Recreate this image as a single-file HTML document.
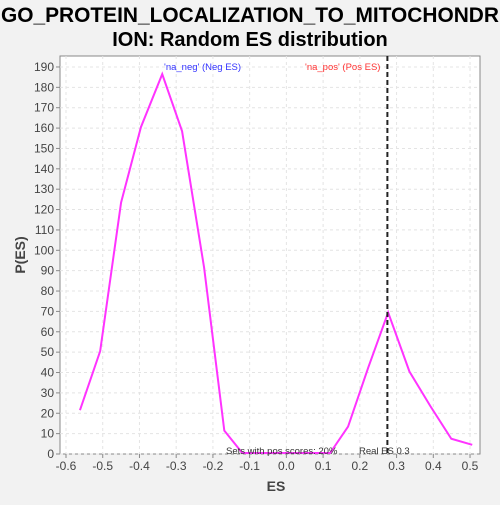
<!DOCTYPE html>
<html><head><meta charset="utf-8"><style>
body{margin:0;background:#f2f2f2;width:500px;height:500px;overflow:hidden;font-family:"Liberation Sans",sans-serif}
</style></head><body>
<svg id="chart" width="500" height="500" xmlns="http://www.w3.org/2000/svg">
<rect x="0" y="0" width="500" height="500" fill="#f2f2f2"/>
<text x="250" y="22" text-anchor="middle" font-size="21" font-weight="bold" fill="#000" textLength="498" lengthAdjust="spacingAndGlyphs">GO_PROTEIN_LOCALIZATION_TO_MITOCHONDR</text>
<text x="250" y="46" text-anchor="middle" font-size="20" font-weight="bold" fill="#000">ION: Random ES distribution</text>
<rect x="60" y="56" width="420" height="398" fill="#fff" stroke="#888"/>
<g id="grid"></g><g id="axes"></g><g id="marks"></g>
<text x="25" y="255" transform="rotate(-90 25 255)" text-anchor="middle" font-size="14" font-weight="bold" fill="#444">P(ES)</text>
<text x="276" y="491" text-anchor="middle" font-size="14" font-weight="bold" fill="#444">ES</text>
<text x="164" y="70" font-size="9.5" fill="#3333ff">'na_neg' (Neg ES)</text>
<text x="305" y="70" font-size="9.5" fill="#ff3333">'na_pos' (Pos ES)</text>
<text x="226" y="454" font-size="9.5" fill="#333">Sets with pos scores: 20%</text>
<text x="359" y="454" font-size="9.5" fill="#333">Real ES 0.3</text>
</svg>
<script>
const xVals=[-0.562,-0.507,-0.45,-0.396,-0.338,-0.284,-0.224,-0.169,-0.12,-0.06,0,0.06,0.119,0.168,0.223,0.277,0.335,0.392,0.449,0.506];
const yVals=[21,50,123,160,186,158,91,11,0,0,0,0,0,13,42,69,40,23,7,4];
const xTicks=[-0.6,-0.5,-0.4,-0.3,-0.2,-0.1,0.0,0.1,0.2,0.3,0.4,0.5];
const yTicks=[0,10,20,30,40,50,60,70,80,90,100,110,120,130,140,150,160,170,180,190];
const realES=[0.275];
const X=v=>66+(v+0.6)*367.3, Y=v=>454-v*2.037;
const NS="http://www.w3.org/2000/svg";
function mk(t,a,p){const e=document.createElementNS(NS,t);for(const k in a)e.setAttribute(k,a[k]);p.appendChild(e);return e;}
const g=document.getElementById('grid'),ax=document.getElementById('axes'),m=document.getElementById('marks');
xTicks.forEach(t=>{const x=X(t);
 const l=mk('line',{x1:x,x2:x,y1:56,y2:454,stroke:'#e4e4e4','stroke-dasharray':'3,3'},g);
 
 const tk=mk('line',{x1:x,x2:x,y1:454,y2:458,stroke:'#888'},ax);
 
 const tx=mk('text',{x:x,y:470,'text-anchor':'middle','font-size':12,fill:'#444'},ax);tx.textContent=t.toFixed(1);
 });
yTicks.forEach(t=>{const y=Y(t);
 const l=mk('line',{x1:60,x2:480,y1:y,y2:y,stroke:'#e4e4e4','stroke-dasharray':'3,3'},g);
 
 const tk=mk('line',{x1:56,x2:60,y1:y,y2:y,stroke:'#888'},ax);
 
 const tx=mk('text',{x:54,y:y+4,'text-anchor':'end','font-size':12,fill:'#444'},ax);tx.textContent=t;
 });
const pl=mk('polyline',{points:xVals.map((v,i)=>X(v)+','+(Y(yVals[i])-1)).join(' '),fill:'none',stroke:'#ff33ff','stroke-width':2},m);

realES.forEach(v=>{const l=mk('line',{x1:X(v),x2:X(v),y1:56,y2:454,stroke:'#222','stroke-width':2,'stroke-dasharray':'5,3'},m);
 });
</script>
</body></html>
